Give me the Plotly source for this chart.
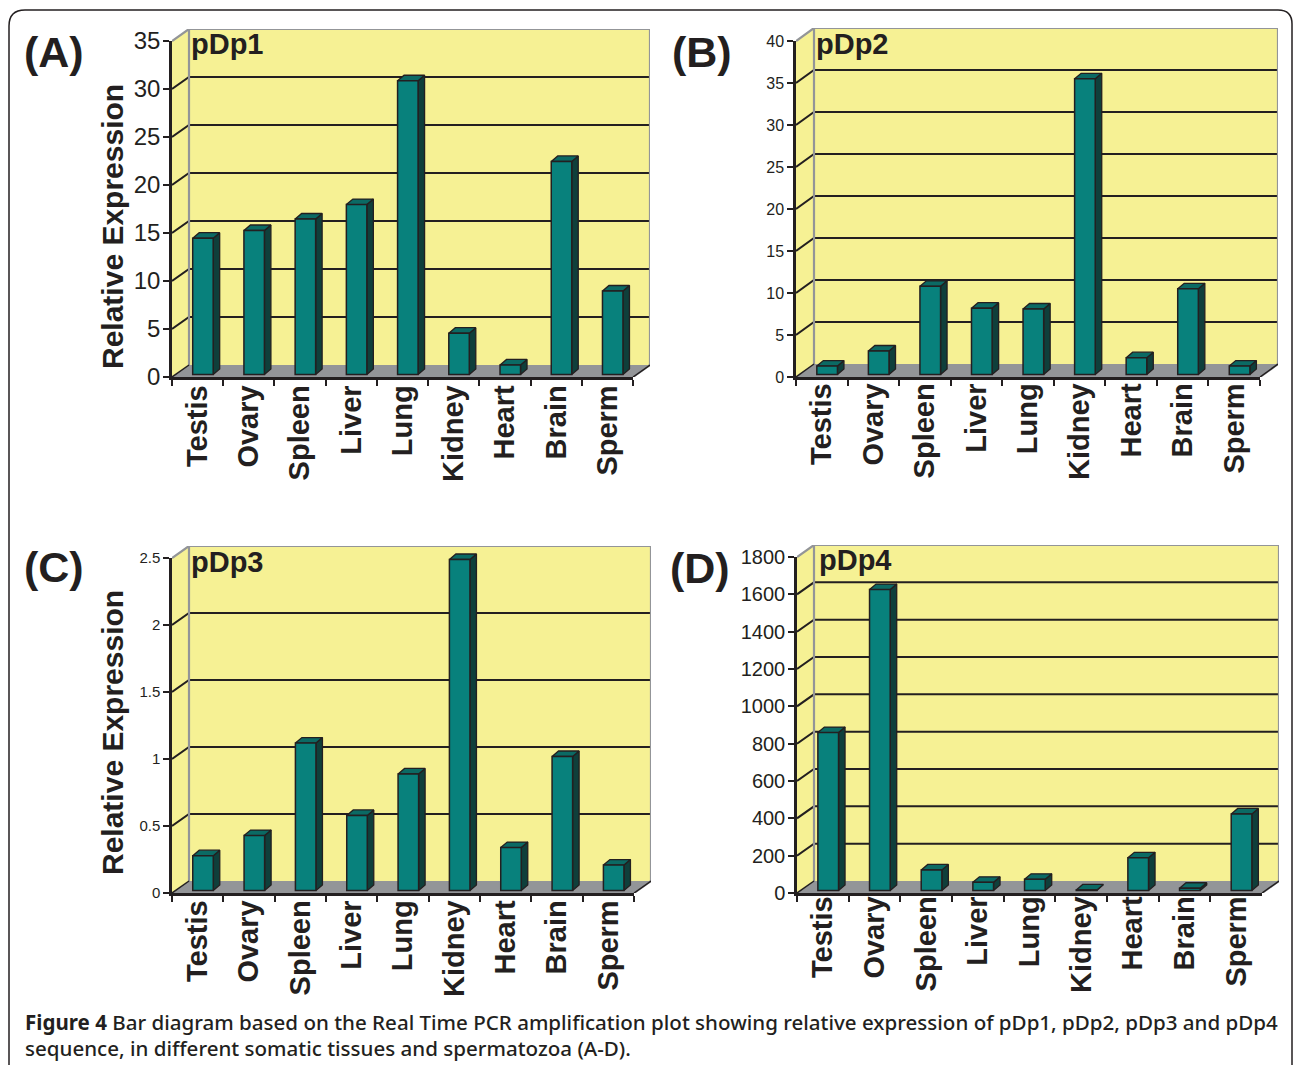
import plotly.graph_objects as go

categories = ["Testis", "Ovary", "Spleen", "Liver", "Lung", "Kidney", "Heart", "Brain", "Sperm"]
values_a = [14.2, 15.0, 16.2, 17.7, 30.6, 4.3, 1.0, 22.2, 8.7]
values_b = [1.0, 2.8, 10.5, 7.9, 7.8, 35.2, 2.0, 10.2, 1.0]
values_c = [0.26, 0.41, 1.1, 0.56, 0.87, 2.47, 0.32, 1.0, 0.19]
values_d = [846, 1612, 110, 44, 60, 3, 175, 12, 410]
ticks_a = [0, 5, 10, 15, 20, 25, 30, 35]
ticks_b = [0, 5, 10, 15, 20, 25, 30, 35, 40]
ticks_c = [0, 0.5, 1, 1.5, 2, 2.5]
ticks_d = [0, 200, 400, 600, 800, 1000, 1200, 1400, 1600, 1800]

W, H = 1293, 1065
INK = "#231f20"
YELLOW = "#f6f194"
GREY = "#939598"
FRONT = "#08817c"
TOP = "#0b6a64"
SIDE = "#0f3f3b"
FONT = "Liberation Sans"

panels = [
    dict(vals=values_a, ticks=ticks_a, tick_size=24, left=172, right=633, y0=377, y1=41, dx=17, dy=12,
         name="pDp1", nx=189, ny=44, letter="(A)", lx=22, ly=52, standoff=-6, ystand=-2),
    dict(vals=values_b, ticks=ticks_b, tick_size=16, left=796, right=1260, y0=377, y1=41, dx=18, dy=13,
         name="pDp2", nx=814, ny=44, letter="(B)", lx=670, ly=52, standoff=-8, ystand=0),
    dict(vals=values_c, ticks=ticks_c, tick_size=15, left=172, right=634, y0=893, y1=558, dx=17, dy=12,
         name="pDp3", nx=189, ny=562, letter="(C)", lx=22, ly=567, standoff=-7, ystand=0),
    dict(vals=values_d, ticks=ticks_d, tick_size=20, left=797, right=1262, y0=893, y1=557, dx=17, dy=12,
         name="pDp4", nx=817, ny=560, letter="(D)", lx=668, ly=568, standoff=-11, ystand=-1),
]

fig = go.Figure()
layout = {}
annotations = []


def poly(xs, ys, fill, line=None, width=1, xa="x", ya="y", mode="lines"):
    fig.add_trace(go.Scatter(x=xs, y=ys, mode=mode, fill="toself" if fill else None, fillcolor=fill,
                             line=dict(color=line or "rgba(0,0,0,0)", width=width),
                             xaxis=xa, yaxis=ya, hoverinfo="skip", showlegend=False))


for i, p in enumerate(panels):
    n = len(categories)
    bx, by = f"x{2*i+1}", f"y{2*i+1}"
    fx, fy = f"x{2*i+2}", f"y{2*i+2}"
    ymax = p["ticks"][-1]
    cat_px = (p["right"] - p["left"]) / n
    val_px = (p["y0"] - p["y1"]) / ymax
    depth_x = p["dx"] / cat_px
    depth_y = p["dy"] / val_px
    xl, xr = -0.5, n - 0.5
    wall_top = ymax + depth_y

    # back subplot: walls, floor, grid, and depth faces of the bars
    layout[bx.replace("x", "xaxis")] = dict(
        domain=[p["left"] / W, (p["right"] + p["dx"]) / W], range=[xl, xr + depth_x],
        visible=False, fixedrange=True)
    layout[by.replace("y", "yaxis")] = dict(
        domain=[1 - p["y0"] / H, 1 - (p["y1"] - p["dy"]) / H], range=[0, wall_top],
        visible=False, fixedrange=True)

    poly([xl, xl + depth_x, xl + depth_x, xl, xl], [0, depth_y, wall_top, ymax, 0], YELLOW, xa=bx, ya=by)
    poly([xl + depth_x, xr + depth_x, xr + depth_x, xl + depth_x, xl + depth_x],
         [depth_y, depth_y, wall_top, wall_top, depth_y], YELLOW, xa=bx, ya=by)
    poly([xl, xl + depth_x, xr + depth_x, xr, xl], [0, depth_y, depth_y, 0, 0], GREY, xa=bx, ya=by)
    for t in p["ticks"][1:-1]:
        poly([xl, xl + depth_x, xr + depth_x], [t, t + depth_y, t + depth_y], None, INK, 2, bx, by)
    poly([xl, xl + depth_x, xr + depth_x, xr + depth_x, xr],
         [ymax, wall_top, wall_top, depth_y, 0], None, GREY, 2.2, bx, by)
    poly([xl + depth_x, xl + depth_x], [wall_top, depth_y], None, GREY, 2.2, bx, by)
    poly([xl, xl + depth_x], [0, depth_y], None, INK, 1.5, bx, by)
    poly([xr, xr + depth_x], [0, depth_y], None, INK, 1.5, bx, by)

    bar_w = 0.40
    bar_off = -0.096
    base = 2.5 / val_px
    sx, sy = 6.5 / cat_px, 5.5 / val_px
    side_x, side_y, top_x, top_y = [], [], [], []
    for k, v in enumerate(p["vals"]):
        x0 = k + bar_off
        x1 = x0 + bar_w
        t = base + v
        side_x += [x1, x1 + sx, x1 + sx, x1, x1, None]
        side_y += [base, base + sy, t + sy, t, base, None]
        top_x += [x0, x0 + sx, x1 + sx, x1, x0, None]
        top_y += [t, t + sy, t + sy, t, t, None]
    poly(side_x, side_y, SIDE, INK, 1.3, bx, by)
    poly(top_x, top_y, TOP, INK, 1.3, bx, by)

    # front subplot: real value scale, tick labels and bar faces
    layout[fx.replace("x", "xaxis")] = dict(
        domain=[p["left"] / W, p["right"] / W], type="category", range=[xl, xr],
        categoryorder="array", categoryarray=categories, tickson="boundaries",
        ticks="outside", ticklen=6, tickwidth=2, tickcolor=INK, showline=True, linecolor=INK, linewidth=2.5,
        showgrid=False, zeroline=False, tickangle=-90, ticklabelstandoff=p["standoff"],
        tickfont=dict(family=FONT, size=29, color=INK, weight="bold"), anchor=fy, fixedrange=True)
    layout[fy.replace("y", "yaxis")] = dict(
        domain=[1 - p["y0"] / H, 1 - p["y1"] / H], range=[0, ymax], tickvals=p["ticks"],
        ticktext=[str(t) for t in p["ticks"]], ticks="outside", ticklen=6, tickwidth=2, tickcolor=INK,
        showline=True, linecolor=INK, linewidth=2.5, showgrid=False, zeroline=False,
        ticklabelstandoff=p["ystand"],
        tickfont=dict(family=FONT, size=p["tick_size"], color=INK), anchor=fx, fixedrange=True)
    fig.add_trace(go.Bar(x=categories, y=p["vals"], base=base, width=bar_w, offset=bar_off,
                         marker=dict(color=FRONT, line=dict(color=INK, width=1.5)),
                         xaxis=fx, yaxis=fy, showlegend=False))

    annotations.append(dict(x=p["nx"] / W, y=1 - p["ny"] / H, xref="paper", yref="paper", text=f"<b>{p['name']}</b>",
                            showarrow=False, xanchor="left", yanchor="middle",
                            font=dict(family=FONT, size=29, color=INK)))
    annotations.append(dict(x=p["lx"] / W, y=1 - p["ly"] / H, xref="paper", yref="paper", text=f"<b>{p['letter']}</b>",
                            showarrow=False, xanchor="left", yanchor="middle",
                            font=dict(family=FONT, size=43, color=INK)))

for cy in (227, 733):
    annotations.append(dict(x=112 / W, y=1 - cy / H, xref="paper", yref="paper", text="<b>Relative Expression</b>",
                            textangle=-90, showarrow=False, xanchor="center", yanchor="middle",
                            font=dict(family=FONT, size=30, color=INK)))

caption_lines = [
    (1022, "<b>Figure 4</b> Bar diagram based on the Real Time PCR amplification plot showing relative expression of pDp1, pDp2, pDp3 and pDp4"),
    (1048, "sequence, in different somatic tissues and spermatozoa (A-D)."),
]
for cy, txt in caption_lines:
    annotations.append(dict(x=23 / W, y=1 - cy / H, xref="paper", yref="paper", text=txt, showarrow=False,
                            xanchor="left", yanchor="middle",
                            font=dict(family="Noto Sans", size=20.55, color=INK, weight=500)))

frame = dict(type="path", xref="paper", yref="paper", line=dict(color=INK, width=1.5),
             path=f"M {9/W} {1-1065/H} L {9/W} {1-26/H} Q {9/W} {1-10/H} {25/W} {1-10/H} "
                  f"L {1278/W} {1-10/H} Q {1292/W} {1-10/H} {1292/W} {1-24/H} L {1292/W} {1-1065/H}")

fig.update_layout(width=W, height=H, margin=dict(l=0, r=0, t=0, b=0, autoexpand=False), paper_bgcolor="white",
                  plot_bgcolor="rgba(0,0,0,0)", showlegend=False, annotations=annotations, shapes=[frame],
                  **layout)
fig.write_html("out.html", post_script="document.body.style.margin='0';", config=dict(displayModeBar=False))
